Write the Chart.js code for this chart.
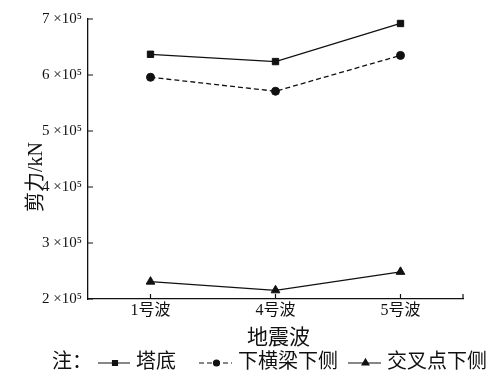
<!DOCTYPE html>
<html>
<head>
<meta charset="utf-8">
<script src="https://cdn.jsdelivr.net/npm/chart.js@4.4.0/dist/chart.umd.min.js"></script>
<style>
html, body { margin: 0; padding: 0; background: #fff; }
#wrap { width: 503px; height: 377px; position: relative; }
</style>
</head>
<body>
<div id="wrap"><canvas id="shearChart"></canvas></div>
<script>
// data
const waves = ['1号波', '4号波', '5号波'];
const towerBase = [637000, 624000, 692000];   // 塔底
const lowerBeam = [596000, 571000, 635000];   // 下横梁下侧
const crossPoint = [231000, 215500, 248500];  // 交叉点下侧
const seriesNames = ['塔底', '下横梁下侧', '交叉点下侧'];
const yMin = 200000, yMax = 700000, yStep = 100000;

const SERIF = "'Liberation Serif', 'Noto Sans CJK SC', serif";
const CJK = "'Liberation Serif', 'Noto Sans CJK SC', serif";

// inward ticks, x title, y title and the "注：" legend row
const decorPlugin = {
    id: 'decor',
    afterDraw(chart) {
        const ctx = chart.ctx;
        const area = chart.chartArea;
        const xs = chart.scales.x, ys = chart.scales.y;
        ctx.save();
        ctx.strokeStyle = '#111';
        ctx.lineWidth = 1.2;
        ctx.beginPath();
        ys.ticks.forEach((t, i) => {
            const y = ys.getPixelForTick(i);
            ctx.moveTo(area.left, y);
            ctx.lineTo(area.left + 5, y);
        });
        xs.ticks.forEach((t, i) => {
            const x = xs.getPixelForTick(i);
            ctx.moveTo(x, area.bottom);
            ctx.lineTo(x, area.bottom - 5);
        });
        ctx.moveTo(area.right, area.bottom);
        ctx.lineTo(area.right, area.bottom - 5);
        ctx.stroke();

        ctx.fillStyle = '#111';
        ctx.textBaseline = 'middle';

        // y title
        ctx.save();
        ctx.translate(37, 177);
        ctx.rotate(-Math.PI / 2);
        ctx.textAlign = 'center';
        ctx.font = '20px ' + CJK;
        ctx.fillText('剪力/kN', 0, 0);
        ctx.restore();

        // x title
        ctx.textAlign = 'center';
        ctx.font = '21px ' + CJK;
        ctx.fillText('地震波', (area.left + area.right) / 2 + 3, 338);

        // legend
        ctx.textAlign = 'left';
        ctx.font = '20px ' + CJK;
        const ly = 363;
        let x = 52;
        ctx.fillText('注：', x, ly);
        x += ctx.measureText('注：').width + 6;
        const lineLens = [32, 33, 33];
        const afterGaps = [23, 10, 0];
        chart.data.datasets.forEach((ds, i) => {
            const len = lineLens[i];
            ctx.save();
            ctx.strokeStyle = ds.borderColor;
            ctx.lineWidth = 1.2;
            ctx.setLineDash(ds.borderDash || []);
            ctx.beginPath();
            ctx.moveTo(x, ly);
            ctx.lineTo(x + len, ly);
            ctx.stroke();
            ctx.restore();
            Chart.helpers.drawPoint(ctx, {
                pointStyle: ds.pointStyle,
                radius: ds.pointRadius - 1,
                rotation: 0,
                borderWidth: 1
            }, x + len / 2 + 1, ly);
            x += len + 6;
            ctx.fillStyle = '#111';
            ctx.fillText(ds.label, x, ly);
            x += ctx.measureText(ds.label).width + afterGaps[i];
        });
        ctx.restore();
    }
};

new Chart(document.getElementById('shearChart'), {
    type: 'line',
    data: {
        labels: waves,
        datasets: [
            {
                label: seriesNames[0],
                data: towerBase,
                borderColor: '#111',
                backgroundColor: '#111',
                borderWidth: 1.3,
                pointStyle: 'rect',
                pointRadius: 4.5,
                pointBorderWidth: 1,
                tension: 0
            },
            {
                label: seriesNames[1],
                data: lowerBeam,
                borderColor: '#111',
                backgroundColor: '#111',
                borderWidth: 1.3,
                borderDash: [5, 3],
                pointStyle: 'circle',
                pointRadius: 4,
                pointBorderWidth: 1,
                tension: 0
            },
            {
                label: seriesNames[2],
                data: crossPoint,
                borderColor: '#111',
                backgroundColor: '#111',
                borderWidth: 1.3,
                pointStyle: 'triangle',
                pointRadius: 5,
                pointBorderWidth: 1,
                tension: 0
            }
        ]
    },
    options: {
        responsive: true,
        maintainAspectRatio: false,
        animation: false,
        layout: { padding: { left: 0, right: 40, top: 19, bottom: 0 } },
        plugins: {
            legend: { display: false },
            tooltip: { enabled: false }
        },
        scales: {
            x: {
                type: 'category',
                offset: true,
                afterFit: s => { s.height = 78; },
                grid: { display: false, drawTicks: false },
                border: { display: true, color: '#111', width: 1.3 },
                ticks: {
                    color: '#111',
                    padding: 2,
                    maxRotation: 0,
                    font: { family: CJK, size: 16 }
                }
            },
            y: {
                min: yMin,
                max: yMax,
                afterFit: s => { s.width = 88; },
                grid: { display: false, drawTicks: false },
                border: { display: true, color: '#111', width: 1.3 },
                ticks: {
                    stepSize: yStep,
                    color: '#111',
                    padding: 6,
                    font: { family: SERIF, size: 15 },
                    callback: v => (v / 100000) + ' ×10⁵'
                }
            }
        }
    },
    plugins: [decorPlugin]
});
</script>
</body>
</html>
